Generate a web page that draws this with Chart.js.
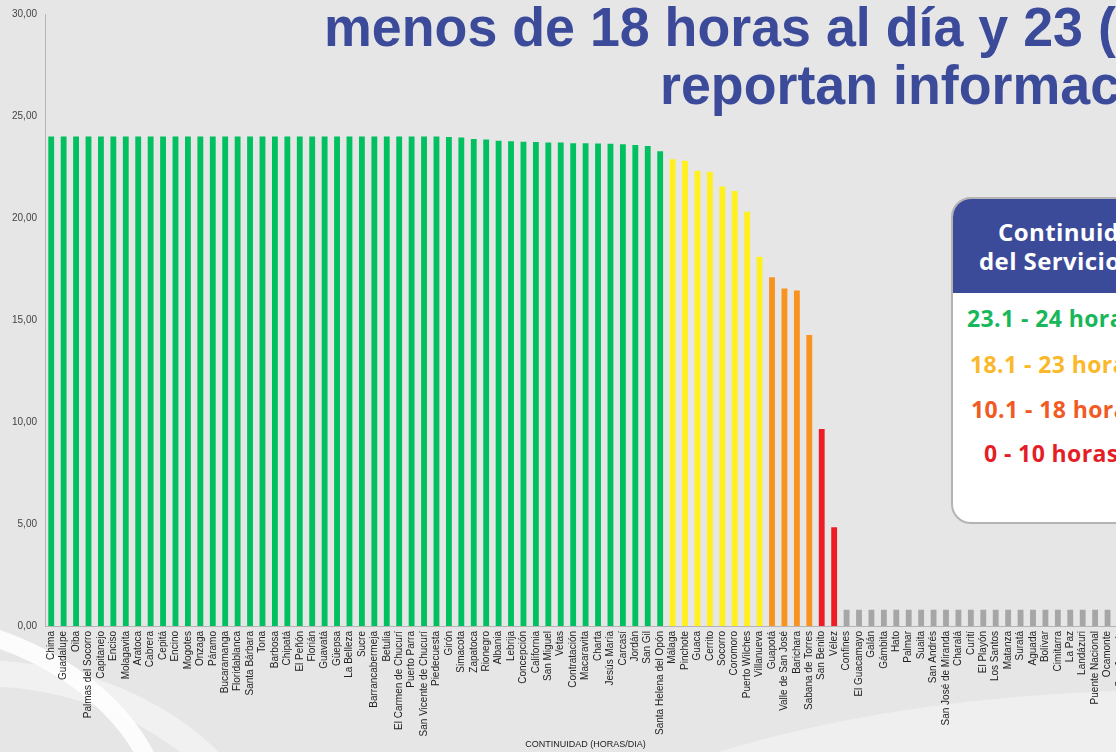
<!DOCTYPE html>
<html>
<head>
<meta charset="utf-8">
<script src="https://cdn.jsdelivr.net/npm/chart.js@4.4.1/dist/chart.umd.min.js"></script>
<style>
    html, body { margin: 0; padding: 0; }
    body {
        width: 1116px;
        height: 752px;
        overflow: hidden;
        position: relative;
        background: #e6e6e6;
        font-family: "Liberation Sans", Arial, sans-serif;
    }
    .swoosh { position: absolute; border-radius: 50%; }
    #s1 { left: -420px; top: 610px; width: 560px; height: 420px; border: 18px solid rgba(255,255,255,0.85); }
    #s2 { left: -330px; top: 660px; width: 560px; height: 420px; border: 26px solid rgba(255,255,255,0.45); }
    #s3 { left: 480px; top: 690px; width: 1400px; height: 500px; background: rgba(255,255,255,0.35); }
    #chartBox { position: absolute; left: 0; top: 0; }
    .title {
        position: absolute;
        white-space: nowrap;
        color: #3c4a9a;
        font-family: "Liberation Sans", Arial, sans-serif;
        font-weight: bold;
        font-size: 56px;
        line-height: 1;
        transform: scaleX(0.96);
        transform-origin: left top;
    }
    #legendBox {
        position: absolute;
        left: 951px;
        top: 197px;
        width: 240px;
        height: 323px;
        border: 2px solid #b4b4b4;
        border-radius: 20px;
        background: #ffffff;
        overflow: hidden;
        font-family: "Open Sans", "Noto Sans", sans-serif;
        font-weight: bold;
    }
    #legendHead {
        position: absolute;
        left: 0; top: 0;
        width: 100%;
        height: 94px;
        background: #3c4a9a;
    }
    .lg {
        position: absolute;
        white-space: nowrap;
        font-size: 23px;
        line-height: 1;
        letter-spacing: 0.4px;
    }
</style>
</head>
<body>
<div class="swoosh" id="s3"></div>
<div class="swoosh" id="s1"></div>
<div class="swoosh" id="s2"></div>
<div id="chartBox"><canvas id="continuidadChart" width="1137" height="752"></canvas></div>

<div class="title" style="left:324px; top:-1px;">menos de 18 horas al día y 23 (</div>
<div class="title" style="left:660px; top:57px;">reportan informac</div>

<div id="legendBox">
    <div id="legendHead"></div>
    <div class="lg" style="left:45px; top:21px; color:#ffffff; font-size:24px;">Continuidad</div>
    <div class="lg" style="left:26px; top:50px; color:#ffffff; font-size:24px;">del Servicio</div>
    <div class="lg" style="left:14px; top:108px; color:#18b85a;">23.1 - 24 horas</div>
    <div class="lg" style="left:17px; top:154px; color:#fbb82a;">18.1 - 23 horas</div>
    <div class="lg" style="left:18px; top:199px; color:#f15a24;">10.1 - 18 horas</div>
    <div class="lg" style="left:31px; top:243px; color:#e41e26;">0 - 10 horas</div>
</div>

<script>
// municipios 23.1 - 24 horas
const greenNames = ['Chima', 'Guadalupe', 'Oiba', 'Palmas del Socorro', 'Capitanejo', 'Enciso', 'Molagavita',
    'Aratoca', 'Cabrera', 'Cepitá', 'Encino', 'Mogotes', 'Onzaga', 'Páramo', 'Bucaramanga', 'Floridablanca',
    'Santa Bárbara', 'Tona', 'Barbosa', 'Chipatá', 'El Peñón', 'Florián', 'Guavatá', 'Güepsa', 'La Belleza',
    'Sucre', 'Barrancabermeja', 'Betulia', 'El Carmen de Chucurí', 'Puerto Parra', 'San Vicente de Chucurí',
    'Piedecuesta', 'Girón', 'Simacota', 'Zapatoca', 'Rionegro', 'Albania', 'Lebrija', 'Concepción',
    'California', 'San Miguel', 'Vetas', 'Contratación', 'Macaravita', 'Charta', 'Jesús María', 'Carcasí',
    'Jordán', 'San Gil', 'Santa Helena del Opón'];
const greenValues = [24, 24, 24, 24, 24, 24, 24, 24, 24, 24, 24, 24, 24, 24, 24, 24, 24, 24, 24, 24, 24, 24,
    24, 24, 24, 24, 24, 24, 24, 24, 24, 23.99, 23.97, 23.95, 23.87, 23.85, 23.79, 23.76, 23.74, 23.72, 23.7,
    23.7, 23.66, 23.66, 23.65, 23.64, 23.62, 23.58, 23.53, 23.27];

// municipios 18.1 - 23 horas
const yellowNames = ['Málaga', 'Pinchote', 'Guaca', 'Cerrito', 'Socorro', 'Coromoro', 'Puerto Wilches', 'Villanueva'];
const yellowValues = [22.88, 22.81, 22.32, 22.27, 21.55, 21.32, 20.31, 18.1];

// municipios 10.1 - 18 horas
const orangeNames = ['Guapotá', 'Valle de San José', 'Barichara', 'Sabana de Torres'];
const orangeValues = [17.09, 16.54, 16.45, 14.26];

// municipios 0 - 10 horas
const redNames = ['San Benito', 'Vélez'];
const redValues = [9.66, 4.84];

// municipios sin información
const grayNames = ['Confines', 'El Guacamayo', 'Galán', 'Gámbita', 'Hato', 'Palmar', 'Suaita', 'San Andrés',
    'San José de Miranda', 'Charalá', 'Curití', 'El Playón', 'Los Santos', 'Matanza', 'Suratá', 'Aguada',
    'Bolívar', 'Cimitarra', 'La Paz', 'Landázuri', 'Puente Nacional', 'Ocamonte', 'San Joaquín'];
const grayValues = [0.8, 0.8, 0.8, 0.8, 0.8, 0.8, 0.8, 0.8, 0.8, 0.8, 0.8, 0.8, 0.8, 0.8, 0.8, 0.8, 0.8,
    0.8, 0.8, 0.8, 0.8, 0.8, 0.8];

const yTicks = [0, 5, 10, 15, 20, 25, 30];

const groups = [
    { names: greenNames, values: greenValues, color: '#00c060' },
    { names: yellowNames, values: yellowValues, color: '#fff01e' },
    { names: orangeNames, values: orangeValues, color: '#f7931e' },
    { names: redNames, values: redValues, color: '#ee1c25' },
    { names: grayNames, values: grayValues, color: '#a6a6a6' }
];

const labels = [];
const values = [];
const colors = [];
groups.forEach(g => {
    g.names.forEach((n, i) => {
        labels.push(n);
        values.push(g.values[i]);
        colors.push(g.color);
    });
});

document.addEventListener('DOMContentLoaded', function () {
    renderBarChart();
});

function renderBarChart() {
    const ctx = document.getElementById('continuidadChart').getContext('2d');
    new Chart(ctx, {
        type: 'bar',
        data: {
            labels: labels,
            datasets: [{
                label: 'Continuidad (horas/día)',
                data: values,
                backgroundColor: colors,
                borderWidth: 0,
                barPercentage: 0.47,
                categoryPercentage: 1
            }]
        },
        options: {
            responsive: false,
            animation: false,
            layout: {
                padding: { top: 14, right: 2, bottom: 0, left: 0 }
            },
            plugins: {
                legend: { display: false },
                tooltip: { enabled: false }
            },
            scales: {
                x: {
                    grid: { display: false, drawTicks: false },
                    border: { color: '#b5b5b5' },
                    ticks: {
                        autoSkip: false,
                        maxRotation: 90,
                        minRotation: 90,
                        padding: 5,
                        color: '#222222',
                        font: { family: 'Liberation Sans', size: 10 }
                    },
                    title: {
                        display: true,
                        text: 'CONTINUIDAD (HORAS/DIA)',
                        color: '#222222',
                        font: { family: 'Liberation Sans', size: 9 },
                        padding: { top: 0, bottom: 2 }
                    },
                    afterFit: function (scale) { scale.height = 126; }
                },
                y: {
                    min: 0,
                    max: 30,
                    afterBuildTicks: function (scale) {
                        scale.ticks = yTicks.map(v => ({ value: v }));
                    },
                    grid: { display: false, drawTicks: false },
                    border: { color: '#b5b5b5' },
                    ticks: {
                        padding: 8,
                        color: '#444444',
                        font: { family: 'Liberation Sans', size: 10 },
                        callback: v => v.toFixed(2).replace('.', ',')
                    },
                    afterFit: function (scale) { scale.width = 45; }
                }
            }
        }
    });
}
</script>
</body>
</html>
